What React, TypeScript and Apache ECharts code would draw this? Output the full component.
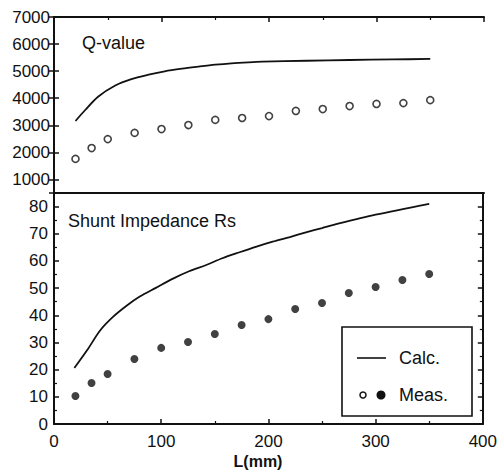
import React, { useEffect, useRef } from "react";
import * as echarts from "echarts";

const measL = [20, 35, 50, 75, 100, 125, 150, 175, 200, 225, 250, 275, 300, 325, 350];
const qMeas = [1760, 2160, 2490, 2720, 2860, 3010, 3200, 3270, 3340, 3530, 3600, 3710, 3790, 3820, 3930];
const rsMeas = [10.3, 15.1, 18.4, 23.9, 28, 30.2, 33.1, 36.4, 38.6, 42.3, 44.5, 48.2, 50.4, 53, 55.2];

const qCalcL = [20, 29, 41, 57, 72, 88, 103, 119, 134, 150, 165, 181, 194, 235, 275, 315, 350];
const qCalc = [3160, 3565, 4057, 4470, 4705, 4869, 4995, 5091, 5165, 5238, 5290, 5327, 5349, 5385, 5412, 5432, 5450];

const rsCalcL = [19, 31, 43, 55, 68, 80, 95, 111, 126, 142, 157, 173, 189, 204, 220, 235, 250, 265, 300, 350];
const rsCalc = [20.6, 27.2, 34.4, 39.4, 43.6, 46.9, 50.1, 53.5, 56.2, 58.5, 61, 63.2, 65.3, 67.1, 68.8, 70.5, 72.1, 73.7, 77, 81];

const xRange = [0, 400];
const qRange = [500, 7000];
const rsRange = [0, 85];

const FONT = "'Liberation Sans', Arial, Helvetica, sans-serif";
const INK = "#111";

export default function App() {
  const ref = useRef<HTMLDivElement>(null);
  useEffect(() => {
    if (!ref.current) return;
    const chart = echarts.init(ref.current, null, { renderer: "svg" });
    const line = { show: true, lineStyle: { color: INK, width: 2 } };
    const tickIn = { show: true, inside: true, length: 5, lineStyle: { color: INK, width: 1.5 } };
    const minorIn = { show: true, splitNumber: 2, length: 3, lineStyle: { color: INK, width: 1.2 } };
    const label = { color: INK, fontFamily: FONT, fontSize: 17 };
    const zip = (a: number[], b: number[]) => a.map((v, i) => [v, b[i]]);
    chart.setOption({
      animation: false,
      backgroundColor: "#fff",
      grid: [
        { left: 54, right: 16, top: 17, height: 176 },
        { left: 54, right: 16, top: 193, height: 231 },
      ],
      xAxis: [
        { type: "value", gridIndex: 0, position: "bottom", min: xRange[0], max: xRange[1], interval: 100,
          axisLine: line, axisTick: { show: false }, axisLabel: { show: false }, splitLine: { show: false } },
        { type: "value", gridIndex: 0, position: "top", min: xRange[0], max: xRange[1], interval: 100,
          axisLine: line, axisTick: tickIn, minorTick: minorIn, axisLabel: { show: false }, splitLine: { show: false } },
        { type: "value", gridIndex: 1, position: "bottom", min: xRange[0], max: xRange[1], interval: 100,
          axisLine: line, axisTick: tickIn, minorTick: minorIn, splitLine: { show: false },
          axisLabel: { ...label, margin: 9 } },
      ],
      yAxis: [
        { type: "value", gridIndex: 0, position: "left", min: qRange[0], max: qRange[1], splitNumber: 6,
          axisLine: line, axisTick: tickIn, splitLine: { show: false },
          axisLabel: { ...label, margin: 4, formatter: (v: number) => (v % 1000 === 0 ? String(v) : "") } },
        { type: "value", gridIndex: 0, position: "right", min: qRange[0], max: qRange[1], splitNumber: 6,
          axisLine: line, axisTick: tickIn, axisLabel: { show: false }, splitLine: { show: false } },
        { type: "value", gridIndex: 1, position: "left", min: rsRange[0], max: rsRange[1], interval: 10,
          axisLine: line, axisTick: tickIn, minorTick: minorIn, splitLine: { show: false },
          axisLabel: { ...label, margin: 6, formatter: (v: number) => (v % 10 === 0 && v <= 80 ? String(v) : "") } },
        { type: "value", gridIndex: 1, position: "right", min: rsRange[0], max: rsRange[1], interval: 10,
          axisLine: line, axisTick: tickIn, minorTick: minorIn, axisLabel: { show: false }, splitLine: { show: false } },
      ],
      series: [
        { type: "line", xAxisIndex: 0, yAxisIndex: 0, data: zip(qCalcL, qCalc), smooth: 0.3,
          showSymbol: false, lineStyle: { color: INK, width: 1.8 } },
        { type: "scatter", xAxisIndex: 0, yAxisIndex: 0, data: zip(measL, qMeas), symbol: "circle", symbolSize: 7,
          itemStyle: { color: "#fff", borderColor: INK, borderWidth: 1.6 } },
        { type: "line", xAxisIndex: 2, yAxisIndex: 2, data: zip(rsCalcL, rsCalc), smooth: 0.3,
          showSymbol: false, lineStyle: { color: INK, width: 1.8 } },
        { type: "scatter", xAxisIndex: 2, yAxisIndex: 2, data: zip(measL, rsMeas), symbol: "circle", symbolSize: 8,
          itemStyle: { color: INK } },
      ],
      graphic: [
        { type: "text", left: 82, top: 34, style: { text: "Q-value", fill: INK, font: `18px ${FONT}` } },
        { type: "text", left: 68, top: 212, style: { text: "Shunt Impedance Rs", fill: INK, font: `18px ${FONT}` } },
        { type: "text", x: 258, y: 461, style: { text: "L(mm)", fill: INK, font: `bold 16px ${FONT}`, align: "center", verticalAlign: "middle" } },
        { type: "rect", shape: { x: 342, y: 327, width: 130, height: 89 }, style: { fill: "#fff", stroke: INK, lineWidth: 1.6 } },
        { type: "line", shape: { x1: 357, y1: 358, x2: 386, y2: 358 }, style: { stroke: INK, lineWidth: 1.6 } },
        { type: "text", x: 399, y: 358, style: { text: "Calc.", fill: INK, font: `18px ${FONT}`, verticalAlign: "middle" } },
        { type: "circle", shape: { cx: 363, cy: 395, r: 3 }, style: { fill: "#fff", stroke: INK, lineWidth: 1.5 } },
        { type: "circle", shape: { cx: 381, cy: 395, r: 4.5 }, style: { fill: INK } },
        { type: "text", x: 399, y: 395, style: { text: "Meas.", fill: INK, font: `18px ${FONT}`, verticalAlign: "middle" } },
      ],
    });
    return () => chart.dispose();
  }, []);
  return <div ref={ref} style={{ position: "absolute", left: 0, top: 0, width: 500, height: 471 }} />;
}
